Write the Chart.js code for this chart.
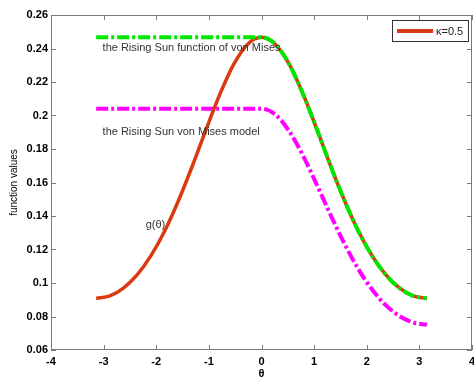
<!DOCTYPE html>
<html>
<head>
<meta charset="utf-8">
<script src="https://cdn.jsdelivr.net/npm/chart.js@4.4.0/dist/chart.umd.min.js"></script>
<style>
  html, body { margin: 0; padding: 0; background: #fff; }
  #wrap { width: 474px; height: 378px; }
</style>
</head>
<body>
<div id="wrap"><canvas id="mycanvas" width="474" height="378"></canvas></div>
<script>
// theta grid, -pi .. pi in 15 degree steps
var theta = [-3.1416, -2.8798, -2.6180, -2.3562, -2.0944, -1.8326, -1.5708, -1.3090, -1.0472, -0.7854, -0.5236, -0.2618, 0,
              0.2618, 0.5236, 0.7854, 1.0472, 1.3090, 1.5708, 1.8326, 2.0944, 2.3562, 2.6180, 2.8798, 3.1416];

// von Mises density g(theta), kappa = 0.5
var gVals = [0.0908, 0.0923, 0.0971, 0.1051, 0.1166, 0.1315, 0.1497, 0.1703, 0.1922, 0.2131, 0.2308, 0.2426, 0.2467,
             0.2426, 0.2308, 0.2131, 0.1922, 0.1703, 0.1497, 0.1315, 0.1166, 0.1051, 0.0971, 0.0923, 0.0908];

// rising sun function of von Mises
var sunFunc = [0.2467, 0.2467, 0.2467, 0.2467, 0.2467, 0.2467, 0.2467, 0.2467, 0.2467, 0.2467, 0.2467, 0.2467, 0.2467,
               0.2426, 0.2308, 0.2131, 0.1922, 0.1703, 0.1497, 0.1315, 0.1166, 0.1051, 0.0971, 0.0923, 0.0908];

// rising sun von Mises model
var sunModel = [0.2041, 0.2041, 0.2041, 0.2041, 0.2041, 0.2041, 0.2041, 0.2041, 0.2041, 0.2041, 0.2041, 0.2041, 0.2041,
                0.2006, 0.1908, 0.1763, 0.1589, 0.1409, 0.1238, 0.1087, 0.0964, 0.0869, 0.0803, 0.0764, 0.0751];

var xTicks = [-4, -3, -2, -1, 0, 1, 2, 3, 4];
var yTicks = [0.06, 0.08, 0.1, 0.12, 0.14, 0.16, 0.18, 0.2, 0.22, 0.24, 0.26];

var legendLabel = '\u03ba=0.5';
var notes = [
  { text: 'the Rising Sun function of von Mises', x: -3.02, y: 0.2403 },
  { text: 'the Rising Sun von Mises model', x: -3.02, y: 0.1901 },
  { text: 'g(\u03b8)', x: -2.2, y: 0.1346 }
];

function pts(ys) {
  var out = [];
  for (var i = 0; i < theta.length; i++) out.push({ x: theta[i], y: ys[i] });
  return out;
}

var red = '#d93a12';
var dashDot = [12, 3, 3, 3];

// box, inside ticks, notes and legend, matlab style
var decor = {
  id: 'decor',
  afterDraw: function(chart) {
    var c = chart.ctx, a = chart.chartArea;
    var xs = chart.scales.x, ys = chart.scales.y;
    c.save();
    c.strokeStyle = '#7a7a7a';
    c.lineWidth = 1;
    c.strokeRect(a.left + 0.5, a.top + 0.5, a.right - a.left - 1, a.bottom - a.top - 1);
    c.beginPath();
    xTicks.forEach(function(v) {
      var px = Math.round(xs.getPixelForValue(v)) + 0.5;
      c.moveTo(px, a.bottom); c.lineTo(px, a.bottom - 5);
      c.moveTo(px, a.top); c.lineTo(px, a.top + 5);
    });
    yTicks.forEach(function(v) {
      var py = Math.round(ys.getPixelForValue(v)) + 0.5;
      c.moveTo(a.left, py); c.lineTo(a.left + 5, py);
      c.moveTo(a.right, py); c.lineTo(a.right - 5, py);
    });
    c.stroke();

    c.fillStyle = '#333';
    c.font = '11px Arial';
    c.textBaseline = 'middle';
    notes.forEach(function(n) {
      c.fillText(n.text, xs.getPixelForValue(n.x), ys.getPixelForValue(n.y));
    });

    // legend box
    var bx = a.right - 80, by = a.top + 5;
    c.fillStyle = '#fff';
    c.fillRect(bx, by, 76, 21);
    c.strokeStyle = '#333';
    c.strokeRect(bx + 0.5, by + 0.5, 76, 21);
    c.strokeStyle = red;
    c.lineWidth = 4;
    c.beginPath();
    c.moveTo(bx + 5, by + 11); c.lineTo(bx + 41, by + 11);
    c.stroke();
    c.fillStyle = '#222';
    c.font = '11px Arial';
    c.fillText(legendLabel, bx + 44, by + 11.5);
    c.restore();
  }
};

var ctx = document.getElementById('mycanvas');
var chart = new Chart(ctx, {
  type: 'scatter',
  data: {
    datasets: [
      {
        label: 'rising sun function',
        data: pts(sunFunc),
        showLine: true,
        borderColor: '#00e800',
        borderWidth: 4,
        borderDash: dashDot,
        borderCapStyle: 'butt',
        pointRadius: 0,
        cubicInterpolationMode: 'monotone',
        order: 0
      },
      {
        label: legendLabel,
        data: pts(gVals),
        showLine: true,
        borderColor: red,
        borderWidth: 3.5,
        pointRadius: 0,
        cubicInterpolationMode: 'monotone',
        order: 1
      },
      {
        label: 'rising sun model',
        data: pts(sunModel),
        showLine: true,
        borderColor: '#ff00ff',
        borderWidth: 4,
        borderDash: dashDot,
        borderCapStyle: 'butt',
        pointRadius: 0,
        cubicInterpolationMode: 'monotone',
        order: 2
      }
    ]
  },
  options: {
    responsive: false,
    animation: false,
    layout: { padding: { top: 15, right: 2, left: 0, bottom: 0 } },
    plugins: { legend: { display: false }, tooltip: { enabled: false } },
    scales: {
      x: {
        type: 'linear',
        min: -4, max: 4,
        afterBuildTicks: function(s) { s.ticks = xTicks.map(function(v) { return { value: v }; }); },
        afterFit: function(s) { s.height = 28; s.paddingLeft = 0; s.paddingRight = 0; },
        grid: { display: false, drawTicks: false },
        border: { display: false },
        ticks: { padding: 5, color: '#000', font: { family: 'Arial', size: 11, weight: 'bold' }, maxRotation: 0 },
        title: { display: true, text: '\u03b8', color: '#000', font: { family: 'Arial', size: 11, weight: 'bold' }, padding: { top: 0, bottom: -3 } }
      },
      y: {
        type: 'linear',
        min: 0.06, max: 0.26,
        afterBuildTicks: function(s) { s.ticks = yTicks.map(function(v) { return { value: v }; }); },
        afterFit: function(s) { s.width = 51; s.paddingTop = 0; s.paddingBottom = 0; },
        grid: { display: false, drawTicks: false },
        border: { display: false },
        ticks: {
          padding: 3, color: '#000', font: { family: 'Arial', size: 11, weight: 'bold' },
          callback: function(v) { return String(Math.round(v * 100) / 100); }
        },
        title: { display: true, text: 'function values', color: '#000', font: { family: 'Arial', size: 10 }, padding: { top: 8, bottom: 0 } }
      }
    }
  },
  plugins: [decor]
});
</script>
</body>
</html>
